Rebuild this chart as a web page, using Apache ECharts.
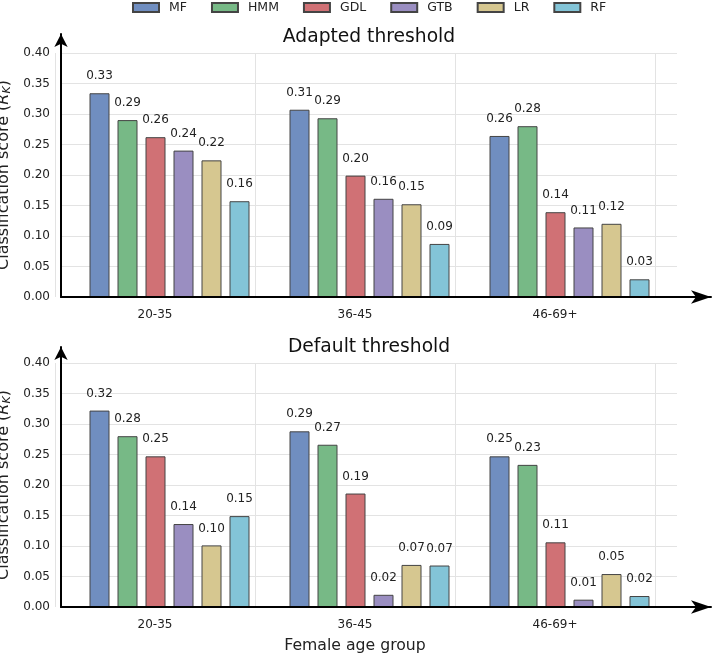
<!DOCTYPE html>
<html>
<head>
<meta charset="utf-8">
<script src="https://cdn.jsdelivr.net/npm/echarts@6/dist/echarts.min.js"></script>
<style>
  html, body { margin: 0; padding: 0; background: #fff; }
  #chart { width: 713px; height: 653px; }
</style>
</head>
<body>
<div id="chart"></div>
<script>
// age groups and methods
const categories = ['20-35', '36-45', '46-69+'];
const methods = ['MF', 'HMM', 'GDL', 'GTB', 'LR', 'RF'];
const colors = ['#708ec0', '#77b986', '#d07175', '#9a8ec1', '#d6c790', '#83c4d7'];

// adapted threshold scores
const adaptedMF = [0.334, 0.307, 0.264];
const adaptedHMM = [0.290, 0.293, 0.280];
const adaptedGDL = [0.262, 0.199, 0.139];
const adaptedGTB = [0.240, 0.161, 0.114];
const adaptedLR = [0.224, 0.152, 0.120];
const adaptedRF = [0.157, 0.087, 0.029];

// default threshold scores
const defaultMF = [0.322, 0.288, 0.247];
const defaultHMM = [0.280, 0.266, 0.233];
const defaultGDL = [0.247, 0.186, 0.106];
const defaultGTB = [0.136, 0.020, 0.012];
const defaultLR = [0.101, 0.069, 0.054];
const defaultRF = [0.149, 0.068, 0.018];

const panelTitles = ['Adapted threshold', 'Default threshold'];
const panelScores = [
  [adaptedMF, adaptedHMM, adaptedGDL, adaptedGTB, adaptedLR, adaptedRF],
  [defaultMF, defaultHMM, defaultGDL, defaultGTB, defaultLR, defaultRF]
];

const font = 'DejaVu Sans';
const panelTop = [53, 363];
const panelH = 244;
const arrowExtra = [19, 16];
const titleOffset = [25, 25];

const grids = [], xAxes = [], yAxes = [], series = [], titles = [];

function makeGrid(left, width, top, height) {
  return { left: left, width: width, top: top, height: height, outerBoundsMode: 'none', containLabel: false };
}

panelTitles.forEach(function (title, p) {
  const top = panelTop[p];
  const base = grids.length;
  // 0: frame (y labels + horizontal grid), 1: bars, 2: category labels, 3: arrows
  grids.push(makeGrid(61, 616, top, panelH));
  grids.push(makeGrid(69.5, 600, top, panelH));
  grids.push(makeGrid(55, 600, top, panelH));
  grids.push(makeGrid(61, 650, top - arrowExtra[p], panelH + arrowExtra[p]));

  // frame
  xAxes.push({ gridIndex: base, type: 'value', min: 0, max: 1, show: false });
  yAxes.push({
    gridIndex: base, type: 'value', min: 0, max: 0.4, interval: 0.05,
    axisLine: { show: false }, axisTick: { show: false },
    axisLabel: { margin: 11, fontSize: 12, fontFamily: font, color: '#222',
      formatter: function (v) { return v.toFixed(2); } },
    splitLine: { lineStyle: { color: '#e3e3e3', width: 1 } },
    name: 'Classification score ({it|R}{sub|K})',
    nameLocation: 'middle', nameGap: 38,
    nameTextStyle: { fontSize: 16, fontFamily: font, color: '#222',
      rich: {
        it: { fontSize: 16, fontFamily: font, fontStyle: 'italic', color: '#222' },
        sub: { fontSize: 11, fontFamily: font, fontStyle: 'italic', color: '#222', verticalAlign: 'bottom', padding: [7, 0, 0, 0] }
      } }
  });

  // bars
  xAxes.push({ gridIndex: base + 1, type: 'category', data: categories, show: false });
  yAxes.push({ gridIndex: base + 1, type: 'value', min: 0, max: 0.4, show: false });

  // category labels + vertical grid lines
  xAxes.push({
    gridIndex: base + 2, type: 'category', data: categories,
    axisLine: { show: false }, axisTick: { show: false },
    axisLabel: { margin: 12, fontSize: 12, fontFamily: font, color: '#222' },
    splitLine: { show: true, interval: 0, lineStyle: { color: '#e3e3e3', width: 1 } },
    name: p === 1 ? 'Female age group' : '',
    nameLocation: 'middle', nameGap: 31,
    nameTextStyle: { fontSize: 15.7, fontFamily: font, color: '#222' }
  });
  yAxes.push({ gridIndex: base + 2, type: 'value', min: 0, max: 1, show: false });

  // axis arrows
  xAxes.push({
    gridIndex: base + 3, type: 'value', min: 0, max: 1, z: 10,
    axisLine: { show: true, symbol: ['none', 'arrow'], symbolSize: [10, 20],
      lineStyle: { color: '#000', width: 2 } },
    axisTick: { show: false }, axisLabel: { show: false }, splitLine: { show: false }
  });
  yAxes.push({
    gridIndex: base + 3, type: 'value', min: 0, max: 1, z: 10,
    axisLine: { show: true, symbol: ['none', 'arrow'], symbolSize: [10, 13],
      lineStyle: { color: '#000', width: 2 } },
    axisTick: { show: false }, axisLabel: { show: false }, splitLine: { show: false }
  });

  titles.push({
    text: title, left: 369, textAlign: 'center', top: top - titleOffset[p], padding: 0,
    textStyle: { fontSize: 18.7, fontWeight: 'normal', fontFamily: font, color: '#111' }
  });

  methods.forEach(function (m, i) {
    series.push({
      name: m, type: 'bar',
      xAxisIndex: base + 1, yAxisIndex: base + 1,
      data: panelScores[p][i],
      barWidth: 20, barGap: '40%', z: 3,
      itemStyle: { color: colors[i], borderColor: '#444', borderWidth: 1 },
      label: { show: true, position: 'top', distance: 11, fontSize: 12,
        fontFamily: font, color: '#222',
        formatter: function (d) { return d.value.toFixed(2); } }
    });
  });
});

const chart = echarts.init(document.getElementById('chart'));
chart.setOption({
  animation: false,
  backgroundColor: '#fff',
  title: titles,
  legend: {
    data: methods, top: 1, left: 132, padding: 0, icon: 'rect',
    itemWidth: 26, itemHeight: 9, itemGap: 24,
    textStyle: { fontSize: 12.5, fontFamily: font, color: '#222', padding: [0, 0, 0, 5] }
  },
  grid: grids,
  xAxis: xAxes,
  yAxis: yAxes,
  series: series
});
</script>
</body>
</html>
